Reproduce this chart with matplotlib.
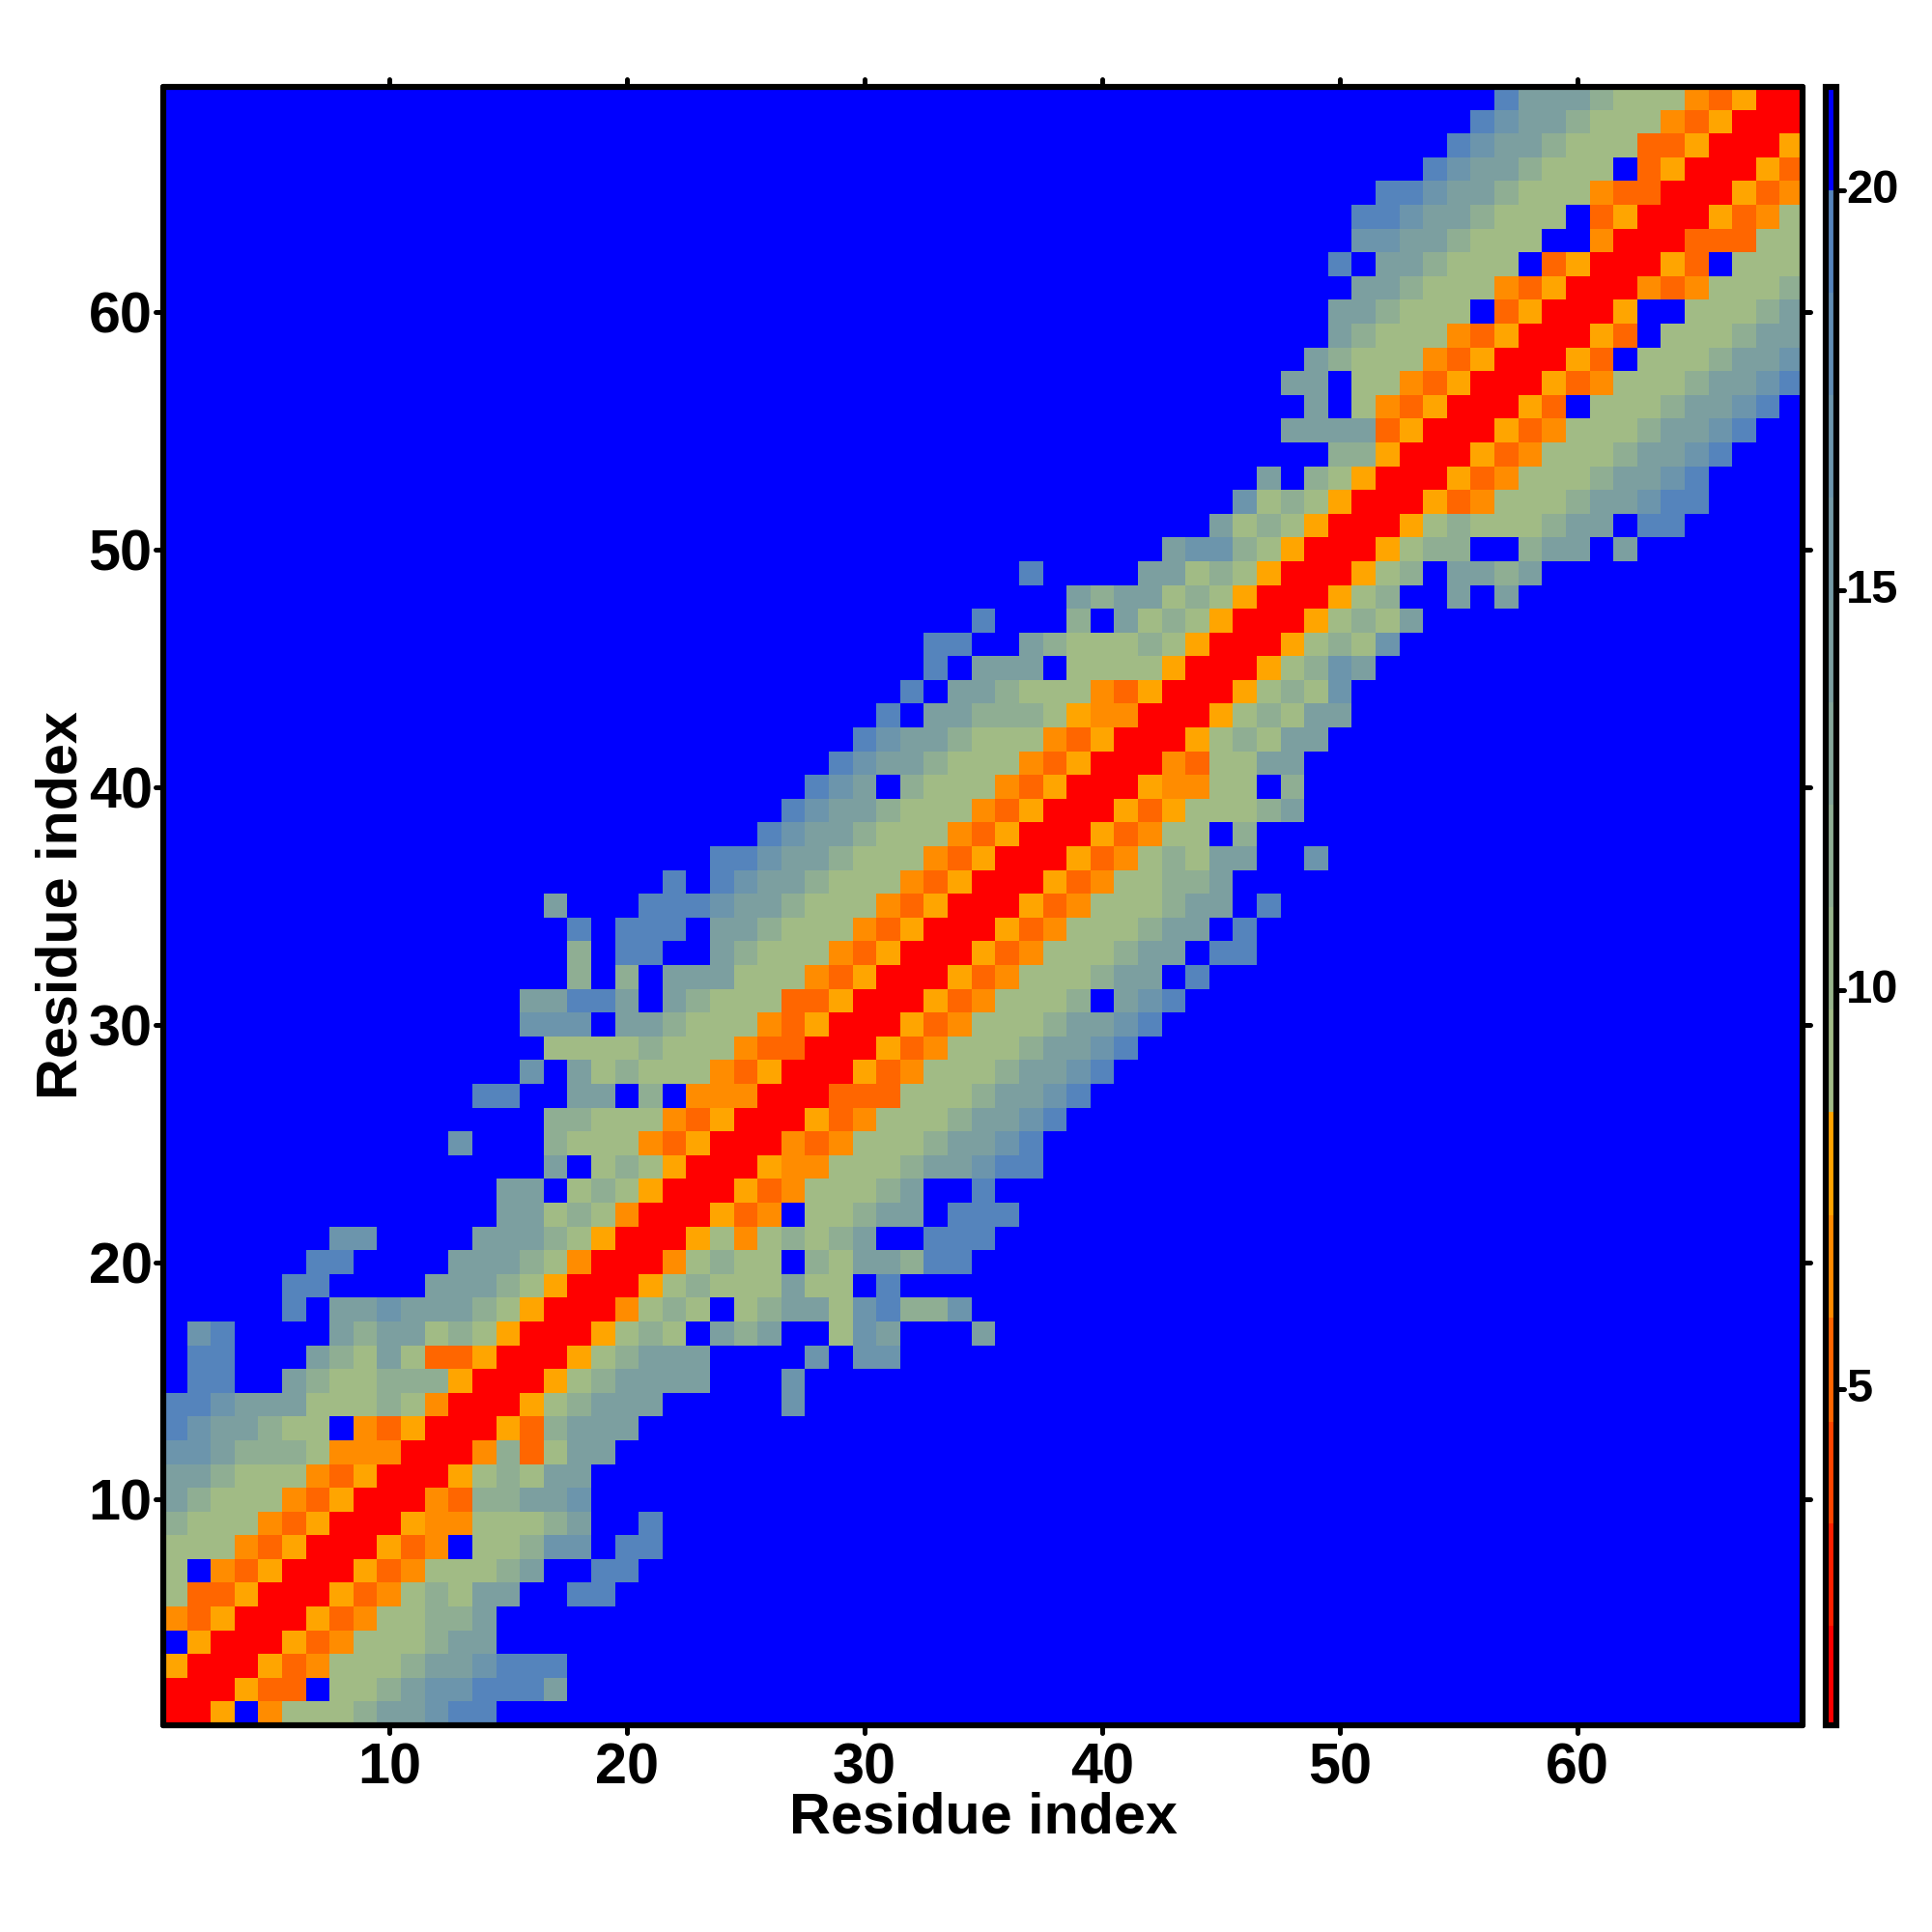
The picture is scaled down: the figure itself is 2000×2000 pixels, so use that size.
import numpy as np
import matplotlib
matplotlib.use("Agg")
import matplotlib.pyplot as plt
from matplotlib.colors import ListedColormap, BoundaryNorm
from matplotlib.markers import MarkerStyle, TICKDOWN, TICKUP, TICKLEFT, TICKRIGHT
from matplotlib.transforms import ScaledTranslation

# ===== DATA =====
# distance read for each colour seen in the map, "." is the blue background
level_values = {
    "r": 1.5, "d": 5.2, "o": 6.5, "a": 7.8,
    "g": 9.1, "h": 11.7, "t": 14.2, "s": 16.8, "b": 19.4, ".": 20.6,
}

# first residue of every row (row 1 at the bottom), cells after the string are blue
row_starts = [
    1, 1, 1, 1, 1, 1, 1, 1, 1, 1,
    1, 1, 1, 1, 1, 1, 1, 1, 1, 1,
    1, 15, 15, 17, 13, 17, 14, 16, 17, 16,
    16, 18, 18, 18, 17, 22, 24, 26, 27, 28,
    29, 30, 31, 32, 33, 33, 35, 39, 37, 43,
    45, 46, 47, 50, 48, 49, 48, 49, 50, 50,
    51, 50, 51, 51, 52, 54, 55, 56, 57,
]

row_cells = [
    "rra.oggghttsbb",
    "rrradd.gghtssbbbt",
    "arrradoggghttsbbb",
    ".arrradoggghtt",
    "odarrradogghht",
    "gddarrradoghgtt..bb",
    "g.odarrradoggght..bb",
    "gggodarrrado.gghss.bb",
    "hgggodarrraooggght..b",
    "thgggodarrrodhhtts",
    "tthgggodarrraghgtt",
    "ssthhhgooorrrohdgtt",
    "bstthgg.odarrradhttt",
    "bbstttggghgorrraghttt.....s",
    ".bb..thgghhharrraghtttt...s",
    ".bb...thgtgddarrraghttt....s.ss",
    ".sb....thttghgarrraghg.tht..gst...t",
    ".....b.ttsttthgarrroghg.ghttgsbhhs",
    ".....bb....ttthgarrraghgggtgg.b",
    "......bb....ttthgorrroghgg.hgtthbb",
    ".......ss....ttthgarrragoghght..bbb",
    "ttghgorrrado.gghtt.bbb",
    "tt.ghgarrradoggght..b",
    "t.ghgarrraooggghttsbb",
    "s...hgggodarrrodoggghttsb",
    "hhgggodarrradoggghttsb",
    "bb..tt.h.ooorrrdddggghttsb",
    "s.tghgggodarrradoggghttsb",
    "gggghgggoddrrradoggghttsb",
    "sss.tthgggodarrradoggghttsb",
    "ttbbt.thgggddarrradogggh.tsb",
    "h.h.tttgggodarrradoggghtt.b",
    "h.bb..thgggodarrradoggghtt.bb",
    "b.bbb.tthgggodarrradoggghtt.b",
    "t...bbbstthgggodarrradoggghtt.b",
    "b.bstthgggodarrradogghht",
    "bbstthgggodarrradoghgtt..s",
    "bstthgggodarrradogg.h",
    "bstthgggodarrradaggght",
    "bst.hgggodarrraoogg.h",
    "bstthgggodarrrodggtt",
    "bstthgggodarrraghgtt",
    "b.tthhhgaoorrraghgtt",
    "b.tthgggodarrraghgs",
    "b.ttt.ggggarrraghst",
    "bb..thggghgarrraghgs",
    "b...h.tghgarrraghgt",
    "thttghgarrragh..t.t",
    "b....ttghgarrragh.ttht",
    "tsshgarrraghh..htt.t",
    "tghgarrraghggghtt.bb",
    "sghgarrradoggghttsbb",
    "t.hgarrradoggghttsb",
    "hharrradoggghttsb",
    "ttttdarrradoggghttsb",
    "t.godarrrad.ggghttsb",
    "tt.ggodarrradoggghttsb",
    "thgggodarrrad.ggghtts",
    "thgggodarrrad.ggghtt",
    "tthggg.darrra..ggght",
    "tthgggodarrrodogggh",
    "b.tthggg.darrrad.ggg",
    "sstthggg..orrrdddgg",
    "bbstthggg.darrradog",
    "bbstthgggoddrrrado",
    "bstthggg.darrrad",
    "bstthgggddarrra",
    "bstthgggodarrr",
    "bttthgggodarr",
]

residue_ticks = [10, 20, 30, 40, 50, 60]
colorbar_ticks = [5, 10, 15, 20]

color_bounds = [0.8, 2.04, 3.33, 4.6, 5.9, 7.18, 8.47, 9.75, 11.03, 12.31,
                13.6, 14.88, 16.16, 17.44, 18.72, 20, 21.3]
colors = ["#FF0000", "#FF2000", "#FF4500", "#FF6600", "#FF8C00", "#FFA500",
          "#A1BB85", "#98B58C", "#8FAE93", "#85A69A", "#7C9FA0", "#749AA6",
          "#6C95AC", "#618DB4", "#5584BC", "#0000FF"]

# ===== BUILD MATRIX =====
cells = np.full((69, 69), level_values["."])
for i, (start, row) in enumerate(zip(row_starts, row_cells)):
    for j, ch in enumerate(row):
        cells[i, start - 1 + j] = level_values[ch]

# ===== FIGURE =====
plt.rcParams["font.family"] = "Liberation Sans"
plt.rcParams["font.weight"] = "bold"

PX = 2000.0
SPINE_W = 6.2 * 72 / 200


def px_axes(left, right, top, bottom):
    return [left / PX, 1 - bottom / PX, (right - left) / PX, (bottom - top) / PX]


def round_ticks(axis, first, second):
    for tick in axis.get_major_ticks():
        tick.tick1line.set_marker(MarkerStyle(first, capstyle="round"))
        tick.tick2line.set_marker(MarkerStyle(second, capstyle="round"))


fig = plt.figure(figsize=(10, 10), dpi=200)
ax = fig.add_axes(px_axes(169.3, 1866.4, 89.5, 1786))
cax = fig.add_axes(px_axes(1889.5, 1901, 89.5, 1786))

cmap = ListedColormap(colors)
norm = BoundaryNorm(color_bounds, cmap.N)

im = ax.imshow(cells, origin="lower", extent=(0.5, 69.5, 0.5, 69.5), cmap=cmap,
               norm=norm, interpolation="nearest", aspect="auto")

ax.set_xticks(residue_ticks)
ax.set_yticks(residue_ticks)
ax.tick_params(axis="both", which="major", direction="out", length=3, width=1.8,
               labelsize=21.4, top=True, right=True, pad=1.2)
ax.tick_params(axis="x", pad=3.2)
round_ticks(ax.xaxis, TICKDOWN, TICKUP)
round_ticks(ax.yaxis, TICKLEFT, TICKRIGHT)
for spine in ax.spines.values():
    spine.set_linewidth(SPINE_W)
    spine.set_capstyle("round")

fig.text(1018 / PX, 1 - 1881.5 / PX, "Residue index", ha="center", va="center",
         fontsize=21.4, fontweight="bold")
fig.text(64 / PX, 1 - 937.5 / PX, "Residue index", ha="center", va="center",
         rotation=90, fontsize=21.4, fontweight="bold")

# ===== COLORBAR =====
cbar = fig.colorbar(im, cax=cax, spacing="proportional", boundaries=color_bounds,
                    ticks=colorbar_ticks)
cbar.ax.set_yticklabels([str(t) for t in colorbar_ticks])
cbar.outline.set_linewidth(SPINE_W)
cbar.ax.minorticks_off()
cbar.ax.tick_params(axis="y", direction="out", length=2.7, width=1.8, labelsize=17.6, pad=1)
round_ticks(cbar.ax.yaxis, TICKLEFT, TICKRIGHT)

# colorbar labels sit a little above their ticks in the original
label_shift = ScaledTranslation(0, 4.5 / 200, fig.dpi_scale_trans)
for label in cbar.ax.get_yticklabels():
    label.set_transform(label.get_transform() + label_shift)

fig.savefig("out.png", dpi=200)
plt.close(fig)
